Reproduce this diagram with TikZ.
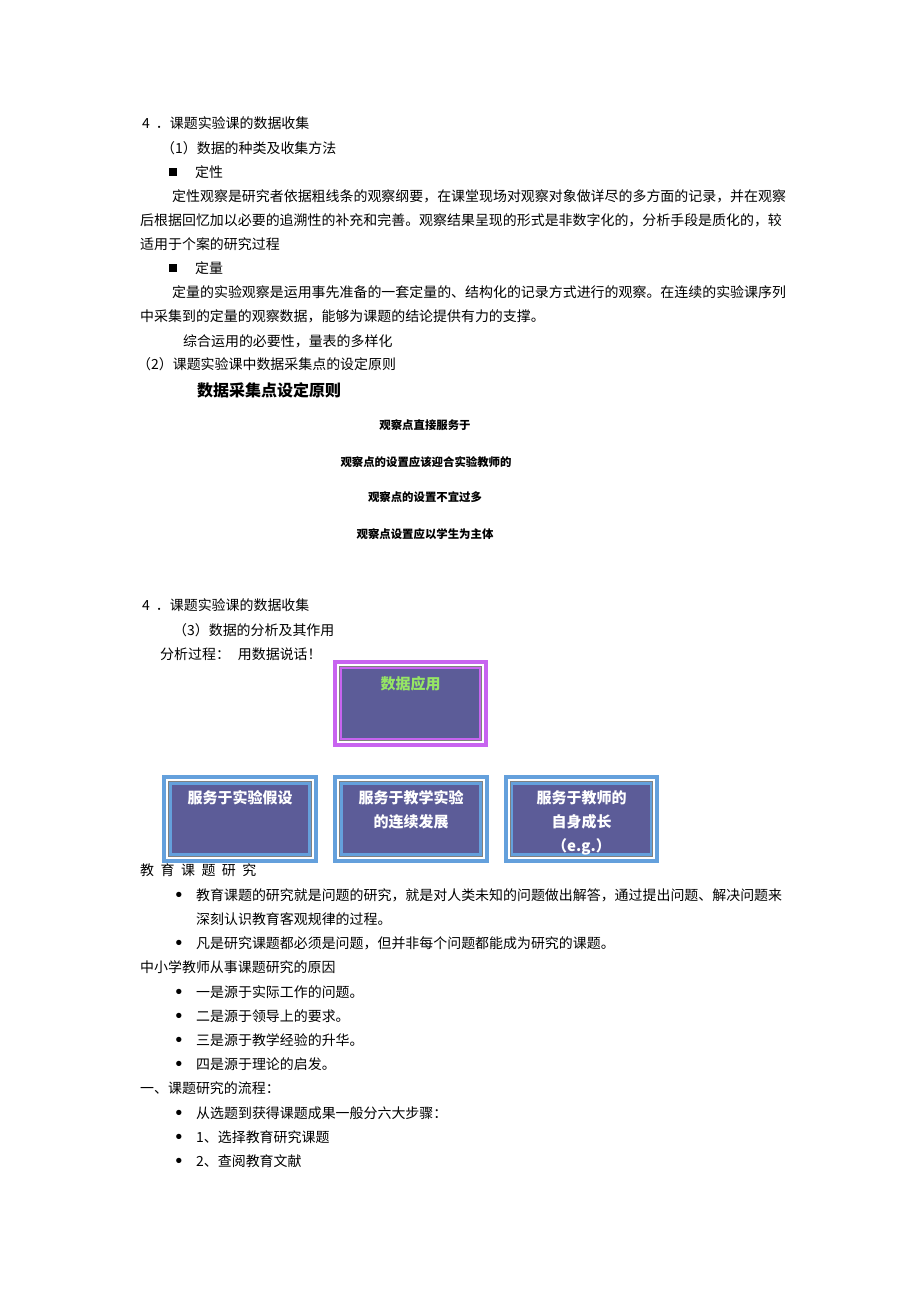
\documentclass[tikz,border=0pt]{standalone}
\usepackage{fontspec}
\usepackage{tikz}
\usetikzlibrary{positioning}
\newfontfamily\cjk{Noto Sans CJK SC}
\newfontfamily\dv{DejaVu Sans}

\definecolor{slate}{HTML}{5C5C98}
\definecolor{lilac}{HTML}{C864F0}
\definecolor{sky}{HTML}{64A0DC}
\definecolor{mint}{HTML}{96E664}

% frame of layered bands round a panel node
\newcommand\panelframe[2]{%
\draw[#2, line width=4] ([shift={(2,2)}]#1.north west) rectangle ([shift={(-2,-2)}]#1.south east);
\draw[white, line width=2] ([shift={(5,5)}]#1.north west) rectangle ([shift={(-5,-5)}]#1.south east);
\draw[gray, line width=1] ([shift={(6.5,6.5)}]#1.north west) rectangle ([shift={(-6.5,-6.5)}]#1.south east);
\draw[#2, line width=2.5] ([shift={(8.25,8.25)}]#1.north west) rectangle ([shift={(-8.25,-8.25)}]#1.south east);
}

\begin{document}
\begin{tikzpicture}[x=1pt, y=-1pt,
  txt/.style={anchor=west, inner sep=0pt, font=\cjk\fontsize{13.95}{13.95}\selectfont},
  small/.style={inner sep=0pt, font=\cjk\bfseries\fontsize{11.4}{11.4}\selectfont},
  dot/.style={anchor=base, inner sep=0pt, font=\dv\bfseries\fontsize{15}{15}\selectfont},
  square/.style={fill=black, minimum size=8, inner sep=0pt},
  panel/.style={fill=slate, minimum width=155, minimum height=87, inner sep=0pt},
  paneltext/.style={inner sep=0pt, align=center, text=white, font=\cjk\bfseries\fontsize{15}{24}\selectfont}]
\useasboundingbox[fill=white] (0,0) rectangle (920,1302);

% data collection
\node[txt] (head1) at (142,123) {4\hspace{6pt}．课题实验课的数据收集};
\node[txt] (kinds) at (161,148) {（1）数据的种类及收集方法};
\node[square] (sq1) at (172.5,172) {};
\node[txt] (qual) at (195,172) {定性};
\node[txt] (qual1) at (172,196) {定性观察是研究者依据粗线条的观察纲要，在课堂现场对观察对象做详尽的多方面的记录，并在观察};
\node[txt] (qual2) at (140,220) {后根据回忆加以必要的追溯性的补充和完善。观察结果呈现的形式是非数字化的，分析手段是质化的，较};
\node[txt] (qual3) at (140,244) {适用于个案的研究过程};
\node[square] (sq2) at (172.5,268) {};
\node[txt] (quan) at (195,268) {定量};
\node[txt] (quan1) at (172,292) {定量的实验观察是运用事先准备的一套定量的、结构化的记录方式进行的观察。在连续的实验课序列};
\node[txt] (quan2) at (140,316) {中采集到的定量的观察数据，能够为课题的结论提供有力的支撑。};
\node[txt] (mix) at (183,341) {综合运用的必要性，量表的多样化};
\node[txt] (points) at (137,364) {（2）课题实验课中数据采集点的设定原则};

% principles
\node[anchor=west, inner sep=0pt, font=\cjk\bfseries\fontsize{16}{16}\selectfont] (rules) at (197,390) {数据采集点设定原则};
\node[small] (rule1) at (425,425) {观察点直接服务于};
\node[small] (rule2) at (426,462) {观察点的设置应该迎合实验教师的};
\node[small] (rule3) at (425,497) {观察点的设置不宜过多};
\node[small] (rule4) at (425,534) {观察点设置应以学生为主体};

% analysis
\node[txt] (head2) at (142,605) {4\hspace{6pt}．课题实验课的数据收集};
\node[txt] (analysis) at (173,630) {（3）数据的分析及其作用};
\node[txt] (speak) at (160,654) {分析过程：\hspace{8pt}用数据说话！};

\node[panel] (apply) at (410.5,703.5) {};
\panelframe{apply}{lilac}
\node[paneltext, text=mint, below=16pt of apply.north] (applyt) {数据应用};

\node[panel] (hypo) at (240,819) {};
\node[panel] (cont) at (411,819) {};
\node[panel] (grow) at (581.5,819) {};
\panelframe{hypo}{sky}
\panelframe{cont}{sky}
\panelframe{grow}{sky}
\node[paneltext, below=15pt of hypo.north] (hypot) {服务于实验假设};
\node[paneltext, below=15pt of cont.north] (contt) {服务于教学实验\\的连续发展};
\node[paneltext, below=15pt of grow.north] (growt) {服务于教师的\\自身成长\\（e.g.）};

% research
\node[txt] (topic) at (140,870) {教\hspace{6.5pt}育\hspace{6.5pt}课\hspace{6.5pt}题\hspace{6.5pt}研\hspace{6.5pt}究};
\node[dot] (b1) at (179,900) {•};
\node[txt] (t1) at (196,895) {教育课题的研究就是问题的研究，就是对人类未知的问题做出解答，通过提出问题、解决问题来};
\node[txt] (t1b) at (196,919) {深刻认识教育客观规律的过程。};
\node[dot] (b2) at (179,948) {•};
\node[txt] (t2) at (196,943) {凡是研究课题都必须是问题，但并非每个问题都能成为研究的课题。};
\node[txt] (why) at (140,967) {中小学教师从事课题研究的原因};
\node[dot] (b3) at (179,997) {•};
\node[txt] (t3) at (196,992) {一是源于实际工作的问题。};
\node[dot] (b4) at (179,1021) {•};
\node[txt] (t4) at (196,1016) {二是源于领导上的要求。};
\node[dot] (b5) at (179,1045) {•};
\node[txt] (t5) at (196,1040) {三是源于教学经验的升华。};
\node[dot] (b6) at (179,1069) {•};
\node[txt] (t6) at (196,1064) {四是源于理论的启发。};
\node[txt] (flow) at (140,1088) {一、课题研究的流程：};
\node[dot] (b7) at (179,1118) {•};
\node[txt] (t7) at (196,1113) {从选题到获得课题成果一般分六大步骤：};
\node[dot] (b8) at (179,1142) {•};
\node[txt] (t8) at (196,1137) {1、选择教育研究课题};
\node[dot] (b9) at (179,1166) {•};
\node[txt] (t9) at (196,1161) {2、查阅教育文献};
\end{tikzpicture}
\end{document}
